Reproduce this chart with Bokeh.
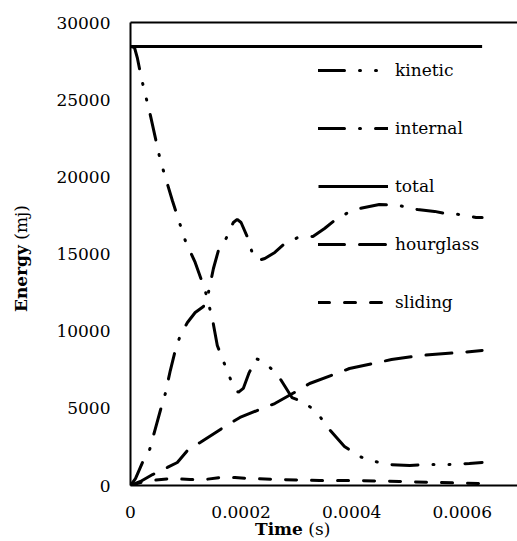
from bokeh.plotting import figure
from bokeh.models import (Range1d, FixedTicker, CustomJSTickFormatter, LinearAxis,
                          Legend, LegendItem, Div)
from bokeh.layouts import row, column
from bokeh.embed import file_html
from bokeh.resources import INLINE

# ---- data (time in s, energy in mJ) ----
kinetic_t = [0, 0.0000072, 0.0000126, 0.0000198, 0.000036, 0.000054, 0.0000757, 0.000099,
             0.000117, 0.000135, 0.000148, 0.000157, 0.000171, 0.000184, 0.000195, 0.000204,
             0.000214, 0.000227, 0.000243, 0.000267, 0.000292, 0.000315, 0.000339, 0.000355,
             0.000387, 0.000414, 0.000441, 0.000468, 0.000505, 0.000541, 0.000577, 0.000613,
             0.000636]
kinetic_e = [28450, 28380, 27670, 26370, 23980, 21060, 18470, 15880, 14450, 12640, 10820,
             9070, 7780, 6610, 6030, 6290, 7260, 8230, 7970, 7130, 5700, 5380, 4670, 3820,
             2530, 1880, 1560, 1360, 1300, 1360, 1360, 1430, 1490]

internal_t = [0, 0.000009, 0.0000216, 0.0000342, 0.000045, 0.000054, 0.000063, 0.000072,
              0.000081, 0.00009, 0.000103, 0.000117, 0.000132, 0.000141, 0.00015, 0.000159,
              0.000173, 0.000186, 0.000193, 0.0002, 0.000211, 0.00022, 0.000231, 0.000243,
              0.000261, 0.000279, 0.000303, 0.00033, 0.000351, 0.000369, 0.000391, 0.000414,
              0.00045, 0.000486, 0.000519, 0.00055, 0.000568, 0.000595, 0.000625, 0.000636]
internal_e = [0, 450, 1490, 2270, 3690, 4860, 5960, 7450, 8750, 9720, 10560, 11210, 11600,
              12510, 14060, 15230, 16010, 17040, 17240, 17040, 16140, 15100, 14580, 14710,
              15100, 15680, 16070, 16140, 16650, 17170, 17630, 17950, 18210, 18140, 17880,
              17760, 17630, 17560, 17370, 17370]

total_t = [0, 0.000636]
total_e = [28450, 28450]

hourglass_t = [0, 0.000018, 0.00004, 0.0000667, 0.0000847, 0.000103, 0.000126, 0.000168,
               0.000198, 0.000238, 0.000261, 0.000303, 0.000324, 0.000373, 0.000396,
               0.000447, 0.000472, 0.000523, 0.000546, 0.000598, 0.000636]
hourglass_e = [0, 260, 710, 1170, 1490, 2270, 2790, 3760, 4410, 4990, 5310, 6160, 6610,
               7260, 7580, 7970, 8160, 8420, 8490, 8620, 8750]

sliding_t = [0, 0.000018, 0.000036, 0.000072, 0.000108, 0.000135, 0.000162, 0.000189,
             0.000216, 0.00027, 0.000342, 0.000414, 0.000486, 0.000559, 0.000636]
sliding_e = [0, 190, 320, 450, 390, 390, 520, 520, 450, 390, 320, 320, 260, 190, 130]

series_names = ["kinetic", "internal", "total", "hourglass", "sliding"]
x_ticks = [0, 0.0002, 0.0004, 0.0006]
y_ticks = [0, 5000, 10000, 15000, 20000, 25000, 30000]
x_title_bold, x_title_unit = "Time", "(s)"
y_title_bold, y_title_unit = "Energy", "(mj)"

FONT = "DejaVu Serif"
FS = "17px"
YDIV_W = 40

p = figure(width=477, height=525, frame_width=387, frame_height=463,
           min_border_left=130 - YDIV_W, min_border_right=0, min_border_top=22,
           min_border_bottom=40,
           x_range=Range1d(0, 0.0007), y_range=Range1d(0, 30000),
           output_backend="svg", toolbar_location=None)
p.outline_line_color = None
p.grid.visible = False
p.background_fill_color = "white"
p.border_fill_color = "white"

for ax in (p.xaxis[0], p.yaxis[0]):
    ax.axis_line_color = "black"
    ax.axis_line_width = 2
    ax.major_tick_line_color = None
    ax.minor_tick_line_color = None
    ax.major_tick_out = 0
    ax.major_tick_in = 0
    ax.major_label_text_font = FONT
    ax.major_label_text_font_size = FS
    ax.major_label_text_color = "black"

p.xaxis.ticker = FixedTicker(ticks=x_ticks)
p.xaxis.formatter = CustomJSTickFormatter(code="return tick == 0 ? '0' : tick.toFixed(4);")
p.xaxis.major_label_standoff = 20
p.yaxis.ticker = FixedTicker(ticks=y_ticks)
p.yaxis.major_label_standoff = 20

top = LinearAxis(ticker=FixedTicker(ticks=[]), axis_line_color="black", axis_line_width=2,
                 major_tick_line_color=None, minor_tick_line_color=None,
                 major_label_text_font_size="0px", major_label_standoff=0,
                 major_tick_out=0, major_tick_in=0)
p.add_layout(top, "above")

W = 3
r_k = p.line(kinetic_t, kinetic_e, line_color="black", line_width=W,
             line_dash="26 15 1 15 1 15", line_cap="round")
r_i = p.line(internal_t, internal_e, line_color="black", line_width=W,
             line_dash="26 15 1 15", line_cap="round")
r_t = p.line(total_t, total_e, line_color="black", line_width=W)
r_h = p.line(hourglass_t, hourglass_e, line_color="black", line_width=W,
             line_dash="26 15", line_cap="round")
r_s = p.line(sliding_t, sliding_e, line_color="black", line_width=W,
             line_dash="11 15", line_cap="round")

items = [LegendItem(label=n, renderers=[r]) for n, r in
         zip(series_names, [r_k, r_i, r_t, r_h, r_s])]
legend = Legend(items=items, location=(188, 173), glyph_width=70, glyph_height=20,
                label_height=20, spacing=38, label_standoff=7, padding=0, margin=0,
                label_text_font=FONT, label_text_font_size=FS, label_text_color="black",
                background_fill_alpha=0, border_line_color=None)
p.add_layout(legend, "center")

font_css = "font-family:'DejaVu Serif'; font-size:17px; color:black; white-space:nowrap;"
ydiv = Div(width=YDIV_W, height=541, margin=0, styles={"overflow": "visible"},
           text=f"<div style=\"display:inline-block; margin-top:312px; margin-left:13px; "
                f"line-height:17px; transform-origin:0 0; transform:rotate(-90deg); "
                f"{font_css}\"><b>{y_title_bold}</b> {y_title_unit}</div>")
xdiv = Div(width=477, height=16, margin=0, styles={"overflow": "visible"},
           text=f"<div style=\"margin-left:{255 - YDIV_W}px; position:relative; top:-4px; "
                f"line-height:16px; {font_css}\"><b>{x_title_bold}</b> {x_title_unit}</div>")

layout = row(ydiv, column(p, xdiv, spacing=0), spacing=0)

open("out.html", "w").write(file_html(layout, INLINE))
